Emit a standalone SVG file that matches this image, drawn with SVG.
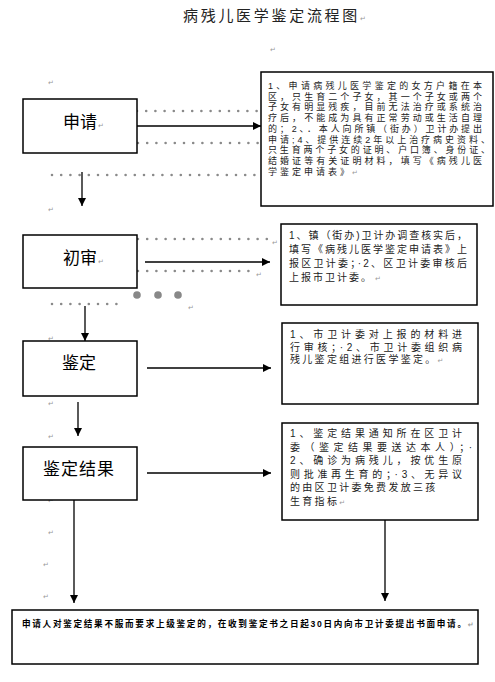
<svg xmlns="http://www.w3.org/2000/svg" width="495" height="682" viewBox="0 0 495 682">
<defs>
<marker id="ah" viewBox="0 0 10 10" refX="10" refY="5" markerWidth="8" markerHeight="8" markerUnits="userSpaceOnUse" orient="auto"><path d="M0,0 L10,5 L0,10 z" fill="#000"/></marker>
</defs>
<style>
.box{fill:#fff;stroke:#000;stroke-width:1.5}
.lbl{font-family:"Liberation Sans","Noto Sans CJK SC",sans-serif;font-size:17px;fill:#000}
.t{font-family:"Liberation Sans","Noto Sans CJK SC",sans-serif;font-size:10px;fill:#222}
.t1{font-size:9px}
.tb{font-family:"Liberation Sans","Noto Sans CJK SC",sans-serif;font-size:8.6px;font-weight:bold;fill:#000}
.pm{font-family:"DejaVu Sans",sans-serif;font-size:7px;fill:#999;letter-spacing:0}
.dot{stroke:#8a8a8a;stroke-width:2.6;stroke-linecap:round;stroke-dasharray:0 9.2;fill:none}
.ln{stroke:#000;stroke-width:1.3;fill:none;marker-end:url(#ah)}
.bd{fill:#888}
</style>
<rect width="495" height="682" fill="#fff"/>
<text x="183" y="21" font-family="'Liberation Sans','Noto Sans CJK SC',sans-serif" font-size="15" fill="#222"><tspan letter-spacing="2.7">病残儿医学鉴定流程图</tspan><tspan class="pm">↵</tspan></text>
<text class="pm" x="270" y="52">↵</text>
<text class="pm" x="48" y="85">↵</text>
<text class="pm" x="48" y="212">↵</text>
<text class="pm" x="272" y="245">↵</text>
<text class="pm" x="256" y="277">↵</text>
<text class="pm" x="188" y="310">↵</text>
<text class="pm" x="48" y="341">↵</text>
<text class="pm" x="48" y="406">↵</text>
<text class="pm" x="48" y="439">↵</text>
<text class="pm" x="48" y="503">↵</text>
<text class="pm" x="48" y="535">↵</text>
<text class="pm" x="43" y="567">↵</text>
<text class="pm" x="43" y="599">↵</text>

<g id="connectors">
<path class="dot" d="M137,111 H259"/>
<path class="dot" d="M138,143 H259"/>
<path class="dot" d="M52,175 H259"/>
<path class="ln" d="M137,126 H261"/>
<path class="ln" d="M82,172 V206"/>
<path class="dot" d="M138,239 H272"/>
<path class="dot" d="M138,271 H255"/>
<path class="ln" d="M145,262 H270"/>
<circle class="bd" cx="137" cy="295" r="3.8"/>
<circle class="bd" cx="158" cy="295" r="3.8"/>
<circle class="bd" cx="178" cy="295" r="3.8"/>
<path class="dot" d="M52,304 H123"/>
<path class="ln" d="M85,306 V341"/>
<path class="dot" d="M101,363 H132"/>
<path class="ln" d="M147,368 H271"/>
<path class="ln" d="M78,402 V436"/>
<path class="dot" d="M119,470 H136"/>
<path class="ln" d="M147,473 H271"/>
<path class="ln" d="M74,500 V603"/>
<path class="ln" d="M385,520 V601"/>
</g>

<g id="n-apply">
<rect class="box" x="23" y="99" width="114" height="54"/>
<text class="lbl" x="63" y="128"><tspan>申请</tspan><tspan class="pm" dx="1">↵</tspan></text>
</g>
<g id="n-apply-desc">
<rect class="box" x="261" y="72" width="232" height="134"/>
<text class="t t1" x="268" y="89"><tspan x="268" y="89" textLength="214" lengthAdjust="spacing">1、申请病残儿医学鉴定的女方户籍在本</tspan><tspan x="268" y="99.7" textLength="214" lengthAdjust="spacing">区，只生育二个子女，其一个子女或两个</tspan><tspan x="268" y="110.4" textLength="214" lengthAdjust="spacing">子女有明显残疾，目前无法治疗或系统治</tspan><tspan x="268" y="121.1" textLength="214" lengthAdjust="spacing">疗后，不能成为具有正常劳动或生活自理</tspan><tspan x="268" y="131.8" textLength="214" lengthAdjust="spacing">的；2、．本人向所镇（街办）卫计办提出</tspan><tspan x="268" y="142.5" textLength="222" lengthAdjust="spacing">申请;4、提供连续2年以上治疗病史资料、</tspan><tspan x="268" y="153.2" textLength="222" lengthAdjust="spacing">只生育两个子女的证明、户口簿、身份证、</tspan><tspan x="268" y="163.9" textLength="214" lengthAdjust="spacing">结婚证等有关证明材料，填写《病残儿医</tspan><tspan x="268" y="174.6" letter-spacing="3">学鉴定申请表》</tspan><tspan class="pm">↵</tspan></text>
</g>

<g id="n-first">
<rect class="box" x="23" y="235" width="114" height="53"/>
<text class="lbl" x="63" y="264"><tspan>初审</tspan><tspan class="pm" dx="1">↵</tspan></text>
</g>
<g id="n-first-desc">
<rect class="box" x="281" y="224" width="196" height="81"/>
<text class="t" x="289" y="239"><tspan x="289" y="239" textLength="178" lengthAdjust="spacing">1、镇（街办)卫计办调查核实后，</tspan><tspan x="289" y="253" textLength="178" lengthAdjust="spacing">填写《病残儿医学鉴定申请表》上</tspan><tspan x="289" y="267" textLength="178" lengthAdjust="spacing">报区卫计委；·2、区卫计委审核后</tspan><tspan x="289" y="281" letter-spacing="2">上报市卫计委。</tspan><tspan class="pm" dx="2">↵</tspan></text>
</g>

<g id="n-appraise">
<rect class="box" x="23" y="341" width="114" height="55"/>
<text class="lbl" x="62" y="369">鉴定</text>
</g>
<g id="n-appraise-desc">
<rect class="box" x="282" y="323" width="196" height="81"/>
<text class="t" x="290" y="338"><tspan x="290" y="338" textLength="172" lengthAdjust="spacing">1、市卫计委对上报的材料进</tspan><tspan x="290" y="350.5" textLength="172" lengthAdjust="spacing">行审核；·2、市卫计委组织病</tspan><tspan x="290" y="363" letter-spacing="2.3">残儿鉴定组进行医学鉴定。</tspan><tspan class="pm">↵</tspan></text>
</g>

<g id="n-result">
<rect class="box" x="23" y="447" width="114" height="53"/>
<text class="lbl" x="43" y="475" letter-spacing="1">鉴定结果</text>
</g>
<g id="n-result-desc">
<rect class="box" x="282" y="423" width="196" height="97"/>
<text class="t" x="290" y="437"><tspan x="290" y="437" textLength="172" lengthAdjust="spacing">1、鉴定结果通知所在区卫计</tspan><tspan x="290" y="450.5" textLength="182" lengthAdjust="spacing">委（鉴定结果要送达本人）；·</tspan><tspan x="290" y="464" textLength="172" lengthAdjust="spacing">2、确诊为病残儿，按优生原</tspan><tspan x="290" y="477.5" textLength="172" lengthAdjust="spacing">则批准再生育的；·3、无异议</tspan><tspan x="290" y="491" letter-spacing="2.3">的由区卫计委免费发放三孩</tspan><tspan x="290" y="504.5" letter-spacing="2.3">生育指标</tspan><tspan class="pm">↵</tspan></text>
</g>

<g id="n-appeal">
<rect class="box" x="12" y="610" width="466" height="54"/>
<text class="tb" x="22" y="627"><tspan textLength="444" lengthAdjust="spacing">申请人对鉴定结果不服而要求上级鉴定的，在收到鉴定书之日起30日内向市卫计委提出书面申请。</tspan><tspan class="pm">↵</tspan></text>
</g>
</svg>
